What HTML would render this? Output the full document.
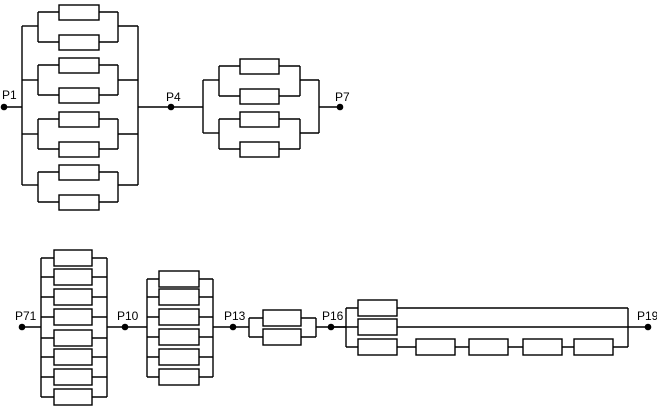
<!DOCTYPE html>
<html><head><meta charset="utf-8"><style>
html,body{margin:0;padding:0;background:#fff;}
svg{display:block;}
text{font-family:"Liberation Sans",Arial,sans-serif;font-size:12px;fill:#000;}
</style></head><body>
<svg width="657" height="420" viewBox="0 0 657 420" xmlns="http://www.w3.org/2000/svg">
<g stroke="#000" stroke-width="1.4" fill="none" id="g">
<line x1="4" y1="107" x2="22" y2="107"/>
<line x1="22" y1="26" x2="22" y2="185"/>
<line x1="138" y1="26" x2="138" y2="185"/>
<line x1="138" y1="107" x2="171" y2="107"/>
<line x1="22" y1="26" x2="38" y2="26"/><line x1="22" y1="80" x2="38" y2="80"/><line x1="22" y1="134" x2="38" y2="134"/><line x1="22" y1="185" x2="38" y2="185"/>
<line x1="118" y1="26" x2="138" y2="26"/><line x1="118" y1="80" x2="138" y2="80"/><line x1="118" y1="134" x2="138" y2="134"/><line x1="118" y1="185" x2="138" y2="185"/>
<line x1="38" y1="12" x2="38" y2="42"/><line x1="118" y1="12" x2="118" y2="42"/>
<line x1="38" y1="65" x2="38" y2="95"/><line x1="118" y1="65" x2="118" y2="95"/>
<line x1="38" y1="119" x2="38" y2="149"/><line x1="118" y1="119" x2="118" y2="149"/>
<line x1="38" y1="172" x2="38" y2="202"/><line x1="118" y1="172" x2="118" y2="202"/>
<line x1="38" y1="12" x2="118" y2="12"/><line x1="38" y1="42" x2="118" y2="42"/>
<line x1="38" y1="65" x2="118" y2="65"/><line x1="38" y1="95" x2="118" y2="95"/>
<line x1="38" y1="119" x2="118" y2="119"/><line x1="38" y1="149" x2="118" y2="149"/>
<line x1="38" y1="172" x2="118" y2="172"/><line x1="38" y1="202" x2="118" y2="202"/>
<line x1="171" y1="107" x2="203" y2="107"/>
<line x1="203" y1="80" x2="203" y2="133"/>
<line x1="319" y1="80" x2="319" y2="133"/>
<line x1="319" y1="107" x2="340" y2="107"/>
<line x1="203" y1="80" x2="219" y2="80"/><line x1="203" y1="133" x2="219" y2="133"/>
<line x1="300" y1="80" x2="319" y2="80"/><line x1="300" y1="133" x2="319" y2="133"/>
<line x1="219" y1="66" x2="219" y2="96"/><line x1="300" y1="66" x2="300" y2="96"/>
<line x1="219" y1="119" x2="219" y2="149"/><line x1="300" y1="119" x2="300" y2="149"/>
<line x1="219" y1="66" x2="300" y2="66"/><line x1="219" y1="96" x2="300" y2="96"/>
<line x1="219" y1="119" x2="300" y2="119"/><line x1="219" y1="149" x2="300" y2="149"/>
<line x1="22" y1="327" x2="41" y2="327"/>
<line x1="41" y1="258" x2="41" y2="397"/>
<line x1="107" y1="258" x2="107" y2="397"/>
<line x1="107" y1="327" x2="147" y2="327"/>
<line x1="41" y1="258" x2="107" y2="258"/><line x1="41" y1="277" x2="107" y2="277"/><line x1="41" y1="297" x2="107" y2="297"/><line x1="41" y1="317" x2="107" y2="317"/>
<line x1="41" y1="338" x2="107" y2="338"/><line x1="41" y1="357" x2="107" y2="357"/><line x1="41" y1="377" x2="107" y2="377"/><line x1="41" y1="397" x2="107" y2="397"/>
<line x1="147" y1="279" x2="147" y2="377"/>
<line x1="213" y1="279" x2="213" y2="377"/>
<line x1="213" y1="327" x2="249" y2="327"/>
<line x1="147" y1="279" x2="213" y2="279"/><line x1="147" y1="297" x2="213" y2="297"/><line x1="147" y1="317" x2="213" y2="317"/>
<line x1="147" y1="337" x2="213" y2="337"/><line x1="147" y1="357" x2="213" y2="357"/><line x1="147" y1="377" x2="213" y2="377"/>
<line x1="249" y1="318" x2="249" y2="337"/>
<line x1="316" y1="318" x2="316" y2="337"/>
<line x1="249" y1="318" x2="316" y2="318"/><line x1="249" y1="337" x2="316" y2="337"/>
<line x1="316" y1="327" x2="346" y2="327"/>
<line x1="346" y1="308" x2="346" y2="347"/>
<line x1="628" y1="308" x2="628" y2="347"/>
<line x1="346" y1="308" x2="628" y2="308"/>
<line x1="346" y1="347" x2="628" y2="347"/>
<line x1="331" y1="327" x2="648" y2="327"/>
</g>
<g stroke="#000" stroke-width="1.4" fill="#fff">
<rect x="59" y="5" width="40" height="15"/><rect x="59" y="35" width="40" height="15"/>
<rect x="59" y="58" width="40" height="15"/><rect x="59" y="88" width="40" height="15"/>
<rect x="59" y="112" width="40" height="15"/><rect x="59" y="142" width="40" height="15"/>
<rect x="59" y="165" width="40" height="15"/><rect x="59" y="195" width="40" height="15"/>
<rect x="240" y="59" width="39" height="15"/><rect x="240" y="89" width="39" height="15"/>
<rect x="240" y="112" width="39" height="15"/><rect x="240" y="142" width="39" height="15"/>
<rect x="54" y="250" width="38" height="16"/><rect x="54" y="269" width="38" height="16"/><rect x="54" y="289" width="38" height="16"/><rect x="54" y="309" width="38" height="16"/>
<rect x="54" y="330" width="38" height="16"/><rect x="54" y="349" width="38" height="16"/><rect x="54" y="369" width="38" height="16"/><rect x="54" y="389" width="38" height="16"/>
<rect x="159" y="271" width="40" height="16"/><rect x="159" y="289" width="40" height="16"/><rect x="159" y="309" width="40" height="16"/>
<rect x="159" y="329" width="40" height="16"/><rect x="159" y="349" width="40" height="16"/><rect x="159" y="369" width="40" height="16"/>
<rect x="263" y="310" width="38" height="16"/><rect x="263" y="329" width="38" height="16"/>
<rect x="358" y="300" width="39" height="16"/><rect x="358" y="319" width="39" height="16"/><rect x="358" y="339" width="39" height="16"/>
<rect x="416" y="339" width="39" height="16"/><rect x="469" y="339" width="39" height="16"/><rect x="523" y="339" width="39" height="16"/><rect x="574" y="339" width="39" height="16"/>
</g>
<g fill="#000">
<circle cx="4" cy="107" r="3.3"/><circle cx="171" cy="107" r="3.3"/><circle cx="340" cy="107" r="3.3"/>
<circle cx="22" cy="327" r="3.3"/><circle cx="125" cy="327" r="3.3"/><circle cx="233" cy="327" r="3.3"/><circle cx="331" cy="327" r="3.3"/><circle cx="648" cy="327" r="3.3"/>
</g>
<text x="2" y="99">P1</text>
<text x="166" y="101">P4</text>
<text x="335" y="101">P7</text>
<text x="15" y="320">P71</text>
<text x="117" y="320">P10</text>
<text x="224" y="320">P13</text>
<text x="322" y="320">P16</text>
<text x="637" y="320">P19</text>
</svg>
</body></html>
